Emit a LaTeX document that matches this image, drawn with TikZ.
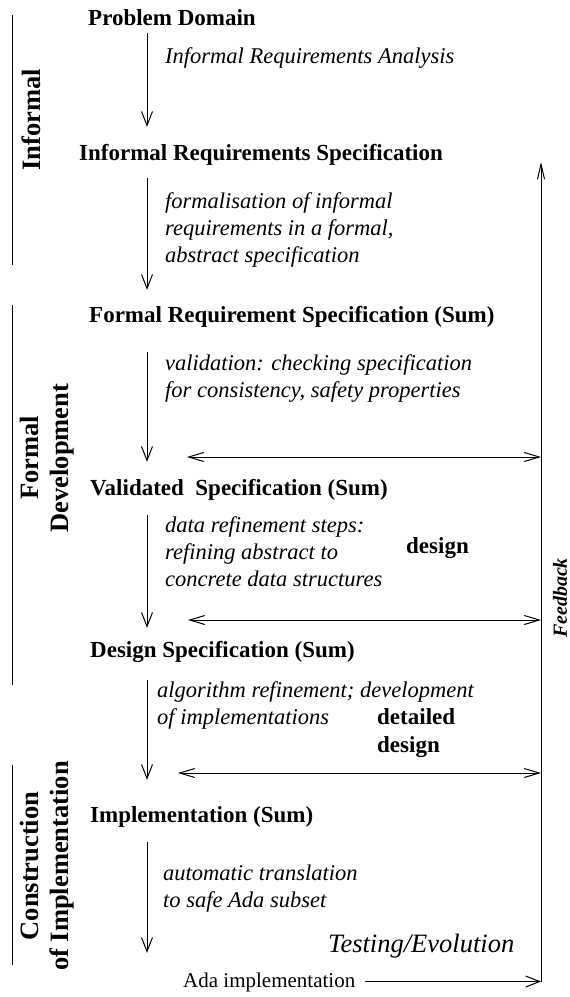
\documentclass[tikz,border=0pt]{standalone}
\usepackage{fontspec}
\setmainfont{Liberation Serif}
\usepackage{tikz}
\usetikzlibrary{arrows.meta,calc}

\tikzset{
  stage/.style={anchor=base west,inner sep=0pt,text height=16pt,text depth=5pt,
    font=\fontsize{23}{28}\selectfont\bfseries},
  remark/.style={anchor=base west,inner sep=0pt,align=left,
    font=\fontsize{22.5}{27}\selectfont\itshape},
  phase/.style={rotate=90,inner sep=0pt,align=center,
    font=\fontsize{26.5}{30}\selectfont\bfseries},
  flow/.style={line width=1pt,-{Straight Barb[length=14pt,width=11pt]}},
  both/.style={line width=1pt,{Straight Barb[length=15pt,width=9pt]}-{Straight Barb[length=15pt,width=9pt]}},
}

\begin{document}
\begin{tikzpicture}[x=1pt,y=-1pt]
	\useasboundingbox (0,0) rectangle (570,997);

	% phases on the left
	\draw[line width=1pt] (12,15)--(12,265) (12,305)--(12,685) (12,765)--(12,965);
	\node[phase] (informal) at (31,120) {Informal};
	\node[phase] (formal) at (47,458) {Formal\\Development};
	\node[phase] (constr) at (47,866) {Construction\\of Implementation};

	% stages
	\node[stage] (pd)   at (88,25)  {Problem Domain};
	\node[stage] (irs)  at (79,160) {Informal Requirements Specification};
	\node[stage] (frs)  at (89,322) {Formal Requirement Specification (Sum)};
	\node[stage] (vs)   at (90,495) {Validated\ \ Specification (Sum)};
	\node[stage] (ds)   at (90,657) {Design Specification (Sum)};
	\node[stage] (impl) at (90,822) {Implementation (Sum)};
	\node[stage,font=\fontsize{21}{25}\selectfont] (ada) at (183,987) {Ada implementation};

	% remarks (anchored at the last line)
	\node[remark] (r1) at (165,63)  {Informal Requirements Analysis};
	\node[remark] (r2) at (165,262) {formalisation of informal\\requirements in a formal,\\abstract specification};
	\node[remark] (r3) at (165,397) {validation: checking specification\\for consistency, safety properties};
	\node[remark] (r4) at (165,586) {data refinement steps:\\refining abstract to\\concrete data structures};
	\node[remark] (r5) at (157,724) {algorithm refinement; development\\of implementations};
	\node[remark] (r6) at (163,907) {automatic translation\\to safe Ada subset};
	\node[remark,font=\fontsize{26.5}{30}\selectfont\itshape] (test) at (328,952) {Testing/Evolution};

	\node[stage] (dsg) at (406,553) {design};
	\node[stage,align=left] (ddsg) at (377,752) {detailed\\design};

	% main chain
	\coordinate (spine) at (147,0);
	\foreach \a/\b/\s/\t in {pd/irs/3/17,irs/frs/13/16,frs/vs/25/17,vs/ds/15/13,ds/impl/18/26,impl/ada/15/18}
		\draw[flow,shorten <=\s pt,shorten >=\t pt] (\a.south -| spine) -- (\b.north -| spine);

	% feedback
	\coordinate (fbtop) at (541,162);
	\coordinate (fbbot) at (ada.east -| fbtop);
	\draw[flow,shorten <=10pt] (ada.east) -- (fbbot);
	\draw[line width=1pt,-{Straight Barb[length=15pt,width=7pt]}] (fbbot) -- (fbtop);
	\node[rotate=90,inner sep=0pt,font=\fontsize{20}{24}\selectfont\bfseries\itshape] (fb) at (560,598) {Feedback};

	\coordinate (g1) at (187,457);
	\coordinate (g2) at (188,620);
	\coordinate (g3) at (178,773);
	\foreach \g in {g1,g2,g3}
		\draw[both] (\g) -- (\g -| fbtop);
\end{tikzpicture}
\end{document}
